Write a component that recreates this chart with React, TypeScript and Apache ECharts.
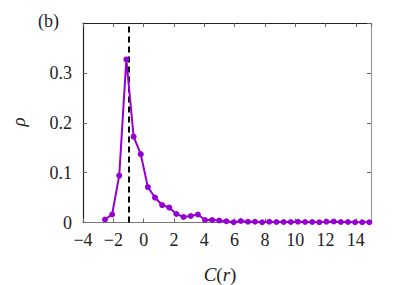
import React, { useEffect, useRef } from "react";
import * as echarts from "echarts";

const xValues = [
  -2.55, -2.08, -1.61, -1.14, -0.66, -0.19, 0.28, 0.75, 1.22, 1.69, 2.16, 2.64,
  3.11, 3.58, 4.05, 4.52, 4.99, 5.46, 5.94, 6.41, 6.88, 7.35, 7.82, 8.29, 8.76,
  9.24, 9.71, 10.18, 10.65, 11.12, 11.59, 12.06, 12.54, 13.01, 13.48, 13.95,
  14.42, 14.89,
];
const rhoValues = [
  0.006, 0.016, 0.094, 0.327, 0.172, 0.137, 0.071, 0.05, 0.035, 0.03, 0.017,
  0.011, 0.013, 0.016, 0.005, 0.005, 0.004, 0.0025, 0.0005, 0.003, 0.0015,
  0.0015, 0.0005, 0.0015, 0.001, 0.001, 0.001, 0.0015, 0.001, 0.001, 0.0005,
  0.0015, 0.002, 0.001, 0.001, 0.0005, 0.0005, 0.0005,
];
const dashedX = -1;
const xRange = [-4, 15];
const yRange = [0, 0.4];
const panelLabel = "(b)";

const FONT = "Liberation Serif";
const TEXT = "#222";

function fmtNum(v: number): string {
  const s = String(Math.round(v * 100) / 100);
  return s.replace("-", "\u2212");
}

export default function App() {
  const ref = useRef<HTMLDivElement>(null);
  useEffect(() => {
    document.body.style.margin = "0";
    if (!ref.current) return;
    const chart = echarts.init(ref.current, undefined, { renderer: "svg" });
    const tickCommon = { show: true, inside: true, length: 4, lineStyle: { color: "#666", width: 1 } };
    chart.setOption({
      animation: false,
      backgroundColor: "#fff",
      textStyle: { fontFamily: FONT },
      grid: { left: 83, top: 23, right: 36, bottom: 62.5, containLabel: false },
      xAxis: [
        {
          type: "value",
          min: xRange[0],
          max: xRange[1],
          interval: 2,
          axisLine: { show: true, onZero: false, lineStyle: { color: "#777", width: 1.2 } },
          axisTick: tickCommon,
          splitLine: { show: false },
          axisLabel: {
            show: true,
            margin: 8,
            showMaxLabel: false,
            fontFamily: FONT,
            fontSize: 18,
            color: TEXT,
            formatter: (v: number) => fmtNum(v),
          },
        },
        {
          type: "value",
          position: "top",
          min: xRange[0],
          max: xRange[1],
          interval: 2,
          axisLine: { show: true, onZero: false, lineStyle: { color: "#222", width: 1.2 } },
          axisTick: tickCommon,
          splitLine: { show: false },
          axisLabel: { show: false },
        },
      ],
      yAxis: [
        {
          type: "value",
          min: yRange[0],
          max: yRange[1],
          interval: 0.1,
          axisLine: { show: true, onZero: false, lineStyle: { color: "#222", width: 1.2 } },
          axisTick: tickCommon,
          splitLine: { show: false },
          axisLabel: {
            show: true,
            margin: 11,
            showMaxLabel: false,
            fontFamily: FONT,
            fontSize: 18,
            color: TEXT,
            formatter: (v: number) => fmtNum(v),
          },
        },
        {
          type: "value",
          position: "right",
          min: yRange[0],
          max: yRange[1],
          interval: 0.1,
          axisLine: { show: true, onZero: false, lineStyle: { color: "#999", width: 1.2 } },
          axisTick: tickCommon,
          splitLine: { show: false },
          axisLabel: { show: false },
        },
      ],
      series: [
        {
          type: "line",
          xAxisIndex: 0,
          yAxisIndex: 0,
          data: xValues.map((x, i) => [x, rhoValues[i]]),
          symbol: "circle",
          symbolSize: 6,
          lineStyle: { color: "#9400D3", width: 2 },
          itemStyle: { color: "#9400D3" },
          z: 3,
          markLine: {
            silent: true,
            symbol: "none",
            label: { show: false },
            lineStyle: { color: "#000", type: [6, 4], width: 2 },
            data: [{ xAxis: dashedX }],
            z: 2,
          },
        },
      ],
      graphic: [
        {
          type: "text",
          left: 38,
          top: 12,
          style: { text: panelLabel, fontFamily: FONT, fontSize: 18, fill: TEXT },
        },
        {
          type: "text",
          x: 18,
          y: 122,
          rotation: Math.PI / 2,
          style: {
            text: "\u03c1",
            fontFamily: FONT,
            fontStyle: "italic",
            fontSize: 19,
            fill: TEXT,
            align: "center",
            verticalAlign: "middle",
          },
        },
        {
          type: "text",
          x: 220,
          y: 274,
          style: {
            text: "{i|C}({i|r})",
            fontFamily: FONT,
            fontSize: 19,
            fill: TEXT,
            align: "center",
            verticalAlign: "middle",
            rich: {
              i: { fontFamily: FONT, fontStyle: "italic", fontSize: 19, fill: TEXT },
            },
          },
        },
      ],
    });
    return () => chart.dispose();
  }, []);
  return <div ref={ref} style={{ width: 407, height: 285 }} />;
}
